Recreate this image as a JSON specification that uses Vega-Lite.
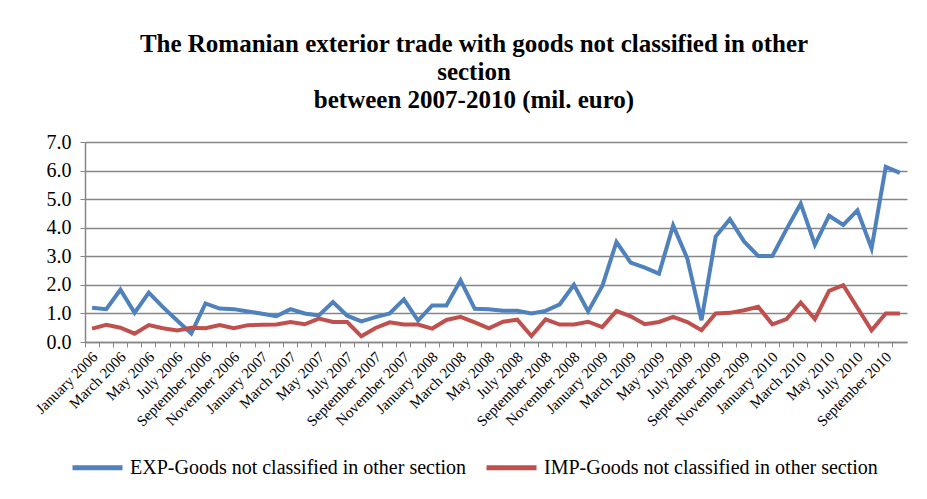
{
  "$schema": "https://vega.github.io/schema/vega-lite/v6.json",
  "width": 822,
  "height": 200,
  "autosize": {"type": "none"},
  "padding": {"left": 85, "top": 142, "right": 20, "bottom": 157},
  "background": "white",
  "config": {"view": {"stroke": null}, "font": "Liberation Serif"},
  "title": {
    "text": ["The Romanian exterior trade with goods not classified in other", "section", "between 2007-2010 (mil. euro)"],
    "font": "Liberation Serif",
    "fontSize": 25,
    "fontWeight": "bold",
    "color": "black",
    "anchor": "middle",
    "frame": "group",
    "dx": -22,
    "offset": 19,
    "lineHeight": 28
  },
  "data": {
    "values": [
      {"month": "January 2006", "EXP": 1.2, "IMP": 0.47},
      {"month": "February 2006", "EXP": 1.15, "IMP": 0.6},
      {"month": "March 2006", "EXP": 1.83, "IMP": 0.5},
      {"month": "April 2006", "EXP": 1.02, "IMP": 0.29},
      {"month": "May 2006", "EXP": 1.73, "IMP": 0.59},
      {"month": "June 2006", "EXP": 1.22, "IMP": 0.48},
      {"month": "July 2006", "EXP": 0.75, "IMP": 0.4},
      {"month": "August 2006", "EXP": 0.3, "IMP": 0.5},
      {"month": "September 2006", "EXP": 1.35, "IMP": 0.48},
      {"month": "October 2006", "EXP": 1.17, "IMP": 0.59},
      {"month": "November 2006", "EXP": 1.15, "IMP": 0.48},
      {"month": "December 2006", "EXP": 1.07, "IMP": 0.59},
      {"month": "January 2007", "EXP": 0.99, "IMP": 0.6},
      {"month": "February 2007", "EXP": 0.9, "IMP": 0.61},
      {"month": "March 2007", "EXP": 1.15, "IMP": 0.7},
      {"month": "April 2007", "EXP": 1.0, "IMP": 0.62},
      {"month": "May 2007", "EXP": 0.93, "IMP": 0.82},
      {"month": "June 2007", "EXP": 1.4, "IMP": 0.7},
      {"month": "July 2007", "EXP": 0.92, "IMP": 0.7},
      {"month": "August 2007", "EXP": 0.72, "IMP": 0.2},
      {"month": "September 2007", "EXP": 0.87, "IMP": 0.49},
      {"month": "October 2007", "EXP": 1.0, "IMP": 0.69},
      {"month": "November 2007", "EXP": 1.49, "IMP": 0.61},
      {"month": "December 2007", "EXP": 0.75, "IMP": 0.61},
      {"month": "January 2008", "EXP": 1.28, "IMP": 0.47},
      {"month": "February 2008", "EXP": 1.28, "IMP": 0.77},
      {"month": "March 2008", "EXP": 2.16, "IMP": 0.88},
      {"month": "April 2008", "EXP": 1.16, "IMP": 0.69},
      {"month": "May 2008", "EXP": 1.15, "IMP": 0.48},
      {"month": "June 2008", "EXP": 1.09, "IMP": 0.71},
      {"month": "July 2008", "EXP": 1.09, "IMP": 0.78},
      {"month": "August 2008", "EXP": 1.0, "IMP": 0.21},
      {"month": "September 2008", "EXP": 1.09, "IMP": 0.79},
      {"month": "October 2008", "EXP": 1.32, "IMP": 0.61},
      {"month": "November 2008", "EXP": 2.0, "IMP": 0.61},
      {"month": "December 2008", "EXP": 1.07, "IMP": 0.71},
      {"month": "January 2009", "EXP": 1.96, "IMP": 0.52},
      {"month": "February 2009", "EXP": 3.5, "IMP": 1.09},
      {"month": "March 2009", "EXP": 2.78, "IMP": 0.9},
      {"month": "April 2009", "EXP": 2.6, "IMP": 0.62},
      {"month": "May 2009", "EXP": 2.39, "IMP": 0.7},
      {"month": "June 2009", "EXP": 4.08, "IMP": 0.88},
      {"month": "July 2009", "EXP": 2.92, "IMP": 0.7},
      {"month": "August 2009", "EXP": 0.76, "IMP": 0.41},
      {"month": "September 2009", "EXP": 3.69, "IMP": 1.0},
      {"month": "October 2009", "EXP": 4.3, "IMP": 1.02},
      {"month": "November 2009", "EXP": 3.52, "IMP": 1.11},
      {"month": "December 2009", "EXP": 3.01, "IMP": 1.23},
      {"month": "January 2010", "EXP": 3.01, "IMP": 0.62},
      {"month": "February 2010", "EXP": 3.95, "IMP": 0.8},
      {"month": "March 2010", "EXP": 4.84, "IMP": 1.38},
      {"month": "April 2010", "EXP": 3.4, "IMP": 0.8},
      {"month": "May 2010", "EXP": 4.42, "IMP": 1.79},
      {"month": "June 2010", "EXP": 4.1, "IMP": 1.99},
      {"month": "July 2010", "EXP": 4.61, "IMP": 1.2},
      {"month": "August 2010", "EXP": 3.28, "IMP": 0.41},
      {"month": "September 2010", "EXP": 6.13, "IMP": 1.0},
      {"month": "October 2010", "EXP": 5.92, "IMP": 1.0}
    ]
  },
  "transform": [{"fold": ["EXP", "IMP"], "as": ["series", "value"]}],
  "mark": {"type": "line", "strokeWidth": 4},
  "encoding": {
    "x": {
      "field": "month",
      "type": "ordinal",
      "sort": null,
      "scale": {"type": "band", "paddingInner": 0, "paddingOuter": 0},
      "axis": {
        "title": null,
        "labelAngle": -45,
        "labelFontSize": 15,
        "labelFont": "Liberation Serif",
        "labelColor": "black",
        "bandPosition": 0,
        "labelOffset": -2,
        "labelOverlap": false,
        "labelExpr": "indexof(['January','March','May','July','September','November'], split(datum.value, ' ')[0]) >= 0 ? datum.value : ''",
        "domainColor": "#868686",
        "domainWidth": 1.5,
        "tickColor": "#868686",
        "tickSize": 5,
        "grid": false
      }
    },
    "y": {
      "field": "value",
      "type": "quantitative",
      "scale": {"domain": [0, 7]},
      "axis": {
        "title": null,
        "values": [0, 1, 2, 3, 4, 5, 6, 7],
        "format": ".1f",
        "labelFontSize": 20,
        "labelFont": "Liberation Serif",
        "labelColor": "black",
        "labelPadding": 9,
        "tickSize": 5,
        "tickColor": "#868686",
        "domainColor": "#868686",
        "domainWidth": 1.5,
        "gridColor": "#868686",
        "gridWidth": 1.3
      }
    },
    "color": {
      "field": "series",
      "type": "nominal",
      "scale": {"domain": ["EXP", "IMP"], "range": ["#4F81BD", "#C0504D"]},
      "legend": {
        "orient": "none",
        "legendX": -15,
        "legendY": 298,
        "direction": "horizontal",
        "title": null,
        "symbolType": "stroke",
        "symbolSize": 2500,
        "symbolStrokeWidth": 5,
        "labelFontSize": 20,
        "labelFont": "Liberation Serif",
        "labelColor": "black",
        "labelOffset": 5,
        "labelLimit": 600,
        "columnPadding": 9,
        "labelExpr": "datum.label == 'EXP' ? 'EXP-Goods not classified in other section' : 'IMP-Goods not classified in other section'"
      }
    }
  }
}
